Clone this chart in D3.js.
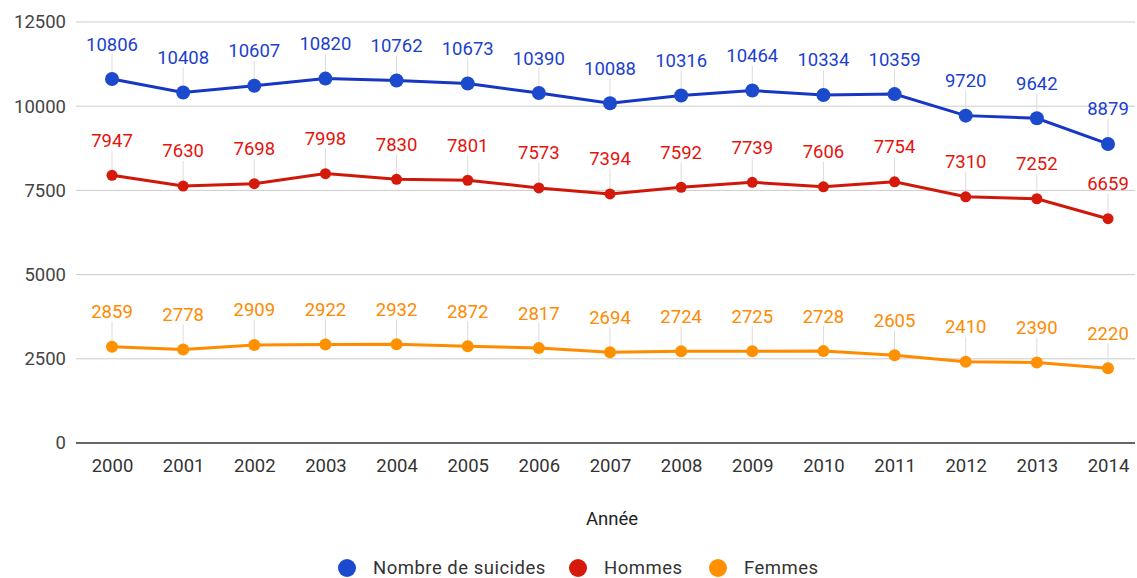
<!DOCTYPE html>
<html><head><meta charset="utf-8">
<script src="https://cdn.jsdelivr.net/npm/d3@7"></script>
<style>body{margin:0;background:#fff}svg{display:block;font-family:Roboto,"Noto Sans",sans-serif}</style>
</head><body><svg id="c" width="1137" height="578"></svg>
<script>
const years = ["2000","2001","2002","2003","2004","2005","2006","2007","2008","2009","2010","2011","2012","2013","2014"];
const total = [10806,10408,10607,10820,10762,10673,10390,10088,10316,10464,10334,10359,9720,9642,8879];
const hommes = [7947,7630,7698,7998,7830,7801,7573,7394,7592,7739,7606,7754,7310,7252,6659];
const femmes = [2859,2778,2909,2922,2932,2872,2817,2694,2724,2725,2728,2605,2410,2390,2220];
const yTicks = [0,2500,5000,7500,10000,12500];
const seriesNames = ["Nombre de suicides","Hommes","Femmes"];
const xTitle = "Année";

const series = [
  {name: seriesNames[0], values: total, line: "#1637c4", dot: "#1b4bcc", label: "#1c3fd0", r: 7},
  {name: seriesNames[1], values: hommes, line: "#d0180a", dot: "#d51a0b", label: "#e5140c", r: 5.5},
  {name: seriesNames[2], values: femmes, line: "#ff8c00", dot: "#ff9000", label: "#ff8a00", r: 6}
];
const FS = 18.5;

const svg = d3.select("#c");
const x = d3.scalePoint().domain(years).range([112, 1108]);
const y = d3.scaleLinear().domain([0, 12500]).range([443, 22]);

svg.append("g").selectAll("line").data(yTicks.filter(d => d > 0)).join("line")
  .attr("x1", 76).attr("x2", 1135).attr("y1", d => y(d)).attr("y2", d => y(d))
  .attr("stroke", "#cccccc").attr("stroke-width", 1);

const yAxis = d3.axisLeft(y).tickValues(yTicks).tickSize(0).tickPadding(0).tickFormat(d3.format("d"));
const ya = svg.append("g").attr("transform", "translate(66,0)").call(yAxis);
ya.select(".domain").remove();
ya.selectAll("text").attr("font-size", FS).attr("fill", "#444").attr("font-family", "Roboto");

const xAxis = d3.axisBottom(x).tickSize(0).tickPadding(16);
const xa = svg.append("g").attr("transform", `translate(0,${y(0)})`).call(xAxis);
xa.select(".domain").remove();
xa.selectAll("text").attr("font-size", FS).attr("fill", "#333").attr("font-family", "Roboto");
svg.append("line").attr("x1", 76).attr("x2", 1135).attr("y1", y(0)).attr("y2", y(0))
  .attr("stroke", "#333").attr("stroke-width", 1.5);

svg.append("text").attr("x", 612).attr("y", 519).attr("dy", "0.35em").attr("text-anchor", "middle")
  .attr("font-size", FS).attr("fill", "#222").text(xTitle);

const line = d3.line().x((d, i) => x(years[i])).y(d => y(d));

series.forEach(s => {
  const g = svg.append("g");
  g.selectAll("line.lead").data(s.values).join("line").attr("class", "lead")
    .attr("x1", (d, i) => x(years[i])).attr("x2", (d, i) => x(years[i]))
    .attr("y1", d => y(d) - 25).attr("y2", d => y(d))
    .attr("stroke", "#dddddd").attr("stroke-width", 1);
  g.append("path").datum(s.values).attr("d", line)
    .attr("fill", "none").attr("stroke", s.line).attr("stroke-width", 3);
  g.selectAll("circle").data(s.values).join("circle")
    .attr("cx", (d, i) => x(years[i])).attr("cy", d => y(d)).attr("r", s.r).attr("fill", s.dot);
  g.selectAll("text").data(s.values).join("text")
    .attr("x", (d, i) => x(years[i])).attr("y", d => y(d) - 35)
    .attr("dy", "0.35em").attr("text-anchor", "middle")
    .attr("font-size", FS).attr("fill", s.label).text(d => d);
});

const legX = [347, 578, 718];
const lg = svg.append("g");
series.forEach((s, i) => {
  lg.append("circle").attr("cx", legX[i]).attr("cy", 568).attr("r", 9).attr("fill", s.dot);
  lg.append("text").attr("x", legX[i] + 26).attr("y", 568).attr("dy", "0.35em")
    .attr("font-size", FS).attr("letter-spacing", 0.5).attr("fill", "#333").text(s.name);
});
</script></body></html>
